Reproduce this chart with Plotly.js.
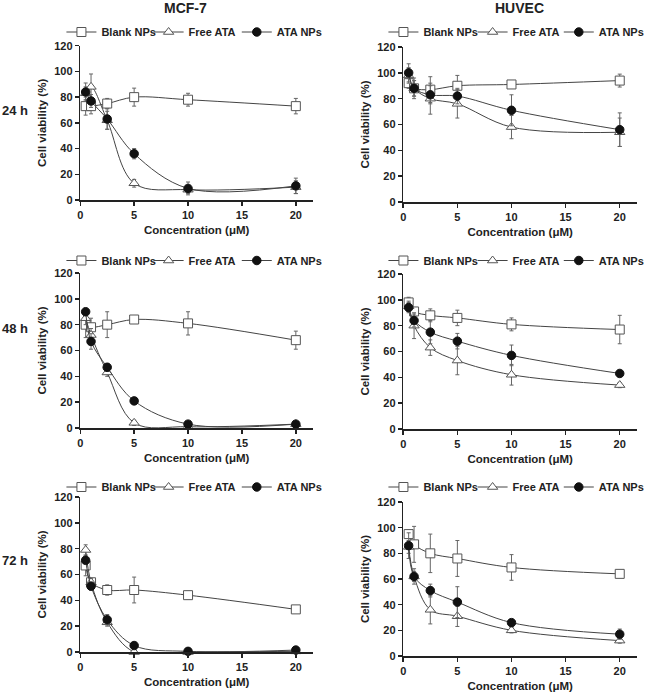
<!DOCTYPE html>
<html><head><meta charset="utf-8">
<script src="https://cdn.plot.ly/plotly-3.0.1.min.js"></script>
<style>html,body{margin:0;padding:0;background:#fff}#chart{width:650px;height:696px}</style>
</head><body><div id="chart"></div>
<script>
// ---------- data ----------
const conc = [0.5, 1, 2.5, 5, 10, 20];
const seriesNames = ['Blank NPs', 'Free ATA', 'ATA NPs'];
const cellLines = ['MCF-7', 'HUVEC'];
const timePoints = ['24 h', '48 h', '72 h'];
const xTickVals = [0, 5, 10, 15, 20];
const yTickVals = [0, 20, 40, 60, 80, 100, 120];

// MCF-7, 24 h
const mcf24Blank = [73, 73, 75, 80, 78, 73];
const mcf24BlankErr = [7, 6, 4, 7, 5, 6];
const mcf24Free = [83, 88, 62, 13, 8, 10];
const mcf24FreeErr = [5, 10, 7, 3, 3, 5];
const mcf24Ata = [84, 77, 63, 36, 9, 11];
const mcf24AtaErr = [7, 5, 8, 4, 5, 6];
// HUVEC, 24 h
const huv24Blank = [92, 88, 87, 90, 91, 94];
const huv24BlankErr = [4, 6, 10, 8, 2, 5];
const huv24Free = [98, 88, 80, 76, 58, 54];
const huv24FreeErr = [6, 8, 12, 11, 9, 11];
const huv24Ata = [100, 88, 83, 82, 71, 56];
const huv24AtaErr = [7, 6, 7, 6, 12, 13];
// MCF-7, 48 h
const mcf48Blank = [80, 78, 80, 84, 81, 68];
const mcf48BlankErr = [10, 7, 10, 3, 9, 7];
const mcf48Free = [85, 72, 43, 4, 1, 3];
const mcf48FreeErr = [5, 5, 3, 2, 1, 1];
const mcf48Ata = [90, 67, 47, 21, 3, 3];
const mcf48AtaErr = [2, 6, 3, 2, 1, 2];
// HUVEC, 48 h
const huv48Blank = [98, 91, 88, 86, 81, 77];
const huv48BlankErr = [4, 3, 5, 6, 5, 11];
const huv48Free = [95, 80, 63, 53, 42, 34];
const huv48FreeErr = [4, 10, 6, 11, 8, 2];
const huv48Ata = [94, 84, 75, 68, 57, 43];
const huv48AtaErr = [4, 5, 9, 6, 8, 2];
// MCF-7, 72 h
const mcf72Blank = [67, 54, 48, 48, 44, 33];
const mcf72BlankErr = [8, 3, 4, 10, 3, 2];
const mcf72Free = [79, 54, 23, 0, 0, 0.5];
const mcf72FreeErr = [4, 3, 3, 1, 0, 0];
const mcf72Ata = [71, 51, 25, 5, 0.5, 1.5];
const mcf72AtaErr = [2, 3, 4, 1, 1, 1];
// HUVEC, 72 h
const huv72Blank = [95, 87, 80, 76, 69, 64];
const huv72BlankErr = [3, 14, 15, 14, 10, 2];
const huv72Free = [85, 62, 36, 31, 20, 12];
const huv72FreeErr = [5, 4, 11, 8, 2, 2];
const huv72Ata = [86, 62, 51, 42, 26, 17];
const huv72AtaErr = [10, 6, 5, 12, 2, 4];

// ---------- assembly ----------
const panels = [
  [[mcf24Blank, mcf24BlankErr], [mcf24Free, mcf24FreeErr], [mcf24Ata, mcf24AtaErr]],
  [[huv24Blank, huv24BlankErr], [huv24Free, huv24FreeErr], [huv24Ata, huv24AtaErr]],
  [[mcf48Blank, mcf48BlankErr], [mcf48Free, mcf48FreeErr], [mcf48Ata, mcf48AtaErr]],
  [[huv48Blank, huv48BlankErr], [huv48Free, huv48FreeErr], [huv48Ata, huv48AtaErr]],
  [[mcf72Blank, mcf72BlankErr], [mcf72Free, mcf72FreeErr], [mcf72Ata, mcf72AtaErr]],
  [[huv72Blank, huv72BlankErr], [huv72Free, huv72FreeErr], [huv72Ata, huv72AtaErr]]
];

const W = 650, H = 696;
const FONT = 'Liberation Sans, Arial, Helvetica, sans-serif';
const INK = '#222';
// pixel boxes [left, right, top, bottom] of each plot area
const boxes = [
  [81, 316, 45.7, 200], [407, 643, 47, 202],
  [81, 316, 273, 428], [407, 643, 274, 429],
  [81, 316, 497, 652], [407, 643, 502, 656]
];
const legendRowY = [32, 260.5, 487];
const legendTextX = [[102, 190, 279], [427, 517, 604]];

const styles = [
  {symbol: 'square', size: 9, color: '#fff', line: {color: '#555', width: 1}},
  {symbol: 'triangle-up', size: 9, color: '#fff', line: {color: '#555', width: 1}},
  {symbol: 'circle', size: 8.5, color: '#111', line: {color: '#111', width: 1}}
];

const traces = [];
const layout = {
  width: W, height: H,
  margin: {l: 0, r: 0, t: 0, b: 0},
  paper_bgcolor: '#fff', plot_bgcolor: 'rgba(0,0,0,0)',
  font: {family: FONT, color: INK, size: 11, weight: 'bold'},
  showlegend: true,
  annotations: []
};

let legendCount = 0;
panels.forEach((p, i) => {
  const n = i + 1;
  const sfx = n === 1 ? '' : String(n);
  const [l, r, t, b] = boxes[i];
  const col = i % 2, row = Math.floor(i / 2);
  p.forEach((s, k) => {
    legendCount++;
    const lg = legendCount === 1 ? 'legend' : 'legend' + legendCount;
    traces.push({
      type: 'scatter', mode: 'lines+markers',
      x: conc, y: s[0], name: seriesNames[k],
      xaxis: 'x' + sfx, yaxis: 'y' + sfx,
      legend: lg,
      cliponaxis: false,
      line: {shape: 'spline', smoothing: 1, color: '#444', width: 1},
      marker: styles[k],
      error_y: {type: 'data', array: s[1], visible: true, color: '#666', thickness: 1, width: 2}
    });
    layout[lg] = {
      x: (legendTextX[col][k] - 40) / W, xanchor: 'left',
      y: 1 - legendRowY[row] / H, yanchor: 'middle',
      orientation: 'h', bgcolor: 'rgba(0,0,0,0)', borderwidth: 0,
      itemwidth: 30,
      font: {family: FONT, size: 11, color: INK, weight: 'bold'}
    };
  });
  const axCommon = {
    showline: true, linecolor: INK, linewidth: 1.5,
    ticks: 'outside', ticklen: 4, tickwidth: 1.5, tickcolor: INK,
    showgrid: false, zeroline: false, automargin: false,
    tickfont: {family: FONT, size: 11, color: INK, weight: 'bold'}
  };
  layout['xaxis' + sfx] = Object.assign({}, axCommon, {
    domain: [l / W, r / W], range: [0, 21.6], anchor: 'y' + sfx,
    tickvals: xTickVals,
    title: {text: 'Concentration (\u03bcM)', standoff: 6, font: {family: FONT, size: 11.5, color: INK, weight: 'bold'}}
  });
  layout['yaxis' + sfx] = Object.assign({}, axCommon, {
    domain: [1 - b / H, 1 - t / H], range: [0, 120], anchor: 'x' + sfx,
    tickvals: yTickVals,
    title: {text: 'Cell viability (%)', standoff: 5, font: {family: FONT, size: 11.5, color: INK, weight: 'bold'}}
  });
});

// column titles
[187, 524].forEach((cx, c) => {
  layout.annotations.push({
    text: cellLines[c], xref: 'paper', yref: 'paper',
    x: cx / W, y: 1 - 8 / H, xanchor: 'center', yanchor: 'middle', showarrow: false,
    font: {family: FONT, size: 14, color: INK, weight: 'bold'}
  });
});
// row labels
[110, 328, 560].forEach((cy, rI) => {
  layout.annotations.push({
    text: timePoints[rI], xref: 'paper', yref: 'paper',
    x: 0, y: 1 - cy / H, xanchor: 'left', yanchor: 'middle', showarrow: false,
    font: {family: FONT, size: 13, color: INK, weight: 'bold'}
  });
});

Plotly.newPlot('chart', traces, layout, {displayModeBar: false, staticPlot: true});
</script>
</body></html>
